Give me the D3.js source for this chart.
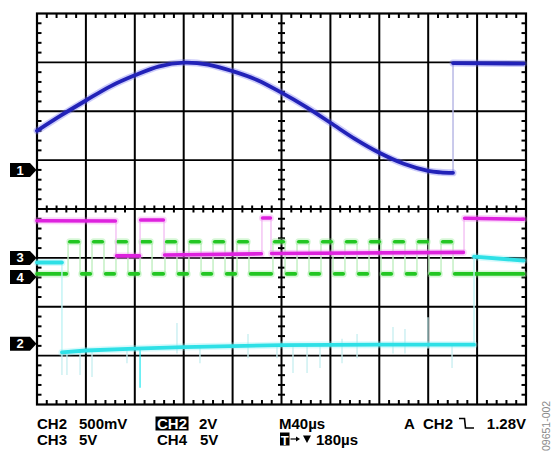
<!DOCTYPE html>
<html><head><meta charset="utf-8">
<script src="https://cdn.jsdelivr.net/npm/d3@7/dist/d3.min.js"></script>
<style>html,body{margin:0;padding:0;background:#fff;}svg{display:block;}</style>
</head><body>
<svg id="chart" width="551" height="452"></svg>
<script>
// ---- data (time in µs from left edge of screen, values in volts) ----
const ch1Time = [0,20,40,60,80,100,120,140,160,180,200,220,240,260,280,300,320,330,340.3,340.3,398];
const ch1Volt = [1.6,2.24,2.84,3.42,3.87,4.24,4.39,4.31,4.04,3.68,3.16,2.58,1.93,1.27,0.70,0.25,-0.04,-0.10,-0.12,4.37,4.35];

const ch2Time = [0,20.4,20.4,40,80,120,160,200,280,357.5,357.5,398];
const ch2Volt = [0.83,0.83,-0.09,-0.07,-0.05,-0.035,-0.025,-0.015,-0.01,-0.01,0.89,0.85];

const ch3Time = [0,64.6,64.6,84.3,84.3,103.9,103.9,184,184,191.4,191.4,349.3,349.3,398];
const ch3Volt = [3.8,3.78,0.2,0.2,3.88,3.88,0.3,0.42,4.08,4.08,0.45,0.56,4.06,3.95];

const ch4Rise = [25.4,45,64.6,84.3,104.7,124.3,144,163.6,193,212.7,232.3,251.9,271.6,291.2,310.8,330.5];
const ch4Fall = [35.2,54.8,74.4,94.1,114.5,134.2,153.8,173.4,202.9,222.5,242.1,261.8,281.4,301,320.6,340.3];
const ch4High = 3.6, ch4Low = 0.31, ch4End = 398;

// faint glitch spikes on CH2: [time, lowV, highV]
const ch2Spikes = [[20.4,-0.32,-0.09],[24.5,-0.32,-0.09],[35.2,-0.32,-0.08],[45,-0.34,-0.07],[73.6,-0.2,-0.06],
  [114.5,-0.1,0.21],[133.3,-0.2,-0.04],[172.6,-0.15,0.1],[196.3,-0.15,-0.02],[209.4,-0.3,-0.01],[220.9,-0.3,0.0],
  [231.5,-0.25,0.0],[249.5,-0.2,0.05],[261.8,-0.15,0.1],[291.2,-0.1,0.17],[301,-0.1,0.15],[319.8,-0.05,0.27],[339.5,-0.25,0.0]];
const ch2BrightSpike = [84.3,-0.45,-0.05];

// channel settings: volts/div and ground-marker offset in divisions
const channels = {
  ch1: {vdiv: 2,   offset: 0.8,   label: "1", color: "#2222b8", halo: "#7070f0", faint: "#b4b4e4"},
  ch2: {vdiv: 0.5, offset: -2.755, label: "2", color: "#2ee0e6", halo: "#8ff2f5", faint: "#bff3f5"},
  ch3: {vdiv: 5,   offset: -1.0,  label: "3", color: "#de22de", halo: "#f08af0", faint: "#f3c0f3"},
  ch4: {vdiv: 5,   offset: -1.39, label: "4", color: "#22c622", halo: "#8ae88a", faint: "#c0efc0"}
};

const row1 = [["CH2",37],["500mV",79],["CH2",157,true],["2V",199],["M40µs",279],["A",404],["CH2",423],["1.28V",526,false,"end"]];
const row2 = [["CH3",37],["5V",79],["CH4",157],["5V",200],["180µs",316]];
const figId = "09651-002";

// ---- layout ----
const L = 37, R = 526, T = 13.5, B = 404.5;
const svg = d3.select("#chart");
const x = d3.scaleLinear().domain([0,400]).range([L,R]);
const y = d3.scaleLinear().domain([-4,4]).range([B,T]);
const yc = (ch, v) => y(channels[ch].offset + v / channels[ch].vdiv);

// grid
const g = svg.append("g");
g.append("rect").attr("x",L).attr("y",T).attr("width",R-L).attr("height",B-T)
  .attr("fill","#fff").attr("stroke","#000").attr("stroke-width",2.2);
d3.range(1,10).forEach(i => g.append("line").attr("x1",x(i*40)).attr("x2",x(i*40)).attr("y1",T).attr("y2",B)
  .attr("stroke","#000").attr("stroke-width",2));
d3.range(-3,4).forEach(i => g.append("line").attr("x1",L).attr("x2",R).attr("y1",y(i)).attr("y2",y(i))
  .attr("stroke","#000").attr("stroke-width",1.8));
// minor ticks
const minorT = d3.range(1,50).filter(i => i%5 !== 0).map(i => i*8);
const minorV = d3.range(-19,20).filter(i => i%5 !== 0).map(i => i/5);
const tk = g.append("g").attr("stroke","#000").attr("stroke-width",2);
minorT.forEach(t => {
  tk.append("line").attr("x1",x(t)).attr("x2",x(t)).attr("y1",T).attr("y2",T+4.5);
  tk.append("line").attr("x1",x(t)).attr("x2",x(t)).attr("y1",B).attr("y2",B-4.5);
  tk.append("line").attr("x1",x(t)).attr("x2",x(t)).attr("y1",y(0)-3.5).attr("y2",y(0)+3.5);
});
minorV.forEach(v => {
  tk.append("line").attr("x1",L).attr("x2",L+4.5).attr("y1",y(v)).attr("y2",y(v));
  tk.append("line").attr("x1",R).attr("x2",R-4.5).attr("y1",y(v)).attr("y2",y(v));
  tk.append("line").attr("x1",x(200)-3.5).attr("x2",x(200)+3.5).attr("y1",y(v)).attr("y2",y(v));
});

// traces
function runs(times, volts){
  const out = []; let cur = [[times[0],volts[0]]];
  for (let i=1;i<times.length;i++){
    if (times[i] === times[i-1]) { out.push(cur); cur = [[times[i],volts[i]]]; }
    else cur.push([times[i],volts[i]]);
  }
  out.push(cur); return out;
}
function drawTrace(ch, times, volts, opts={}){
  const c = channels[ch];
  const tg = svg.append("g");
  const lin = d3.line().x(d=>x(d[0])).y(d=>yc(ch,d[1]));
  tg.append("path").attr("d", lin(times.map((t,i)=>[t,volts[i]])))
    .attr("fill","none").attr("stroke",c.faint).attr("stroke-width",1.4);
  const smooth = d3.line().x(d=>x(d[0])).y(d=>yc(ch,d[1])).curve(opts.smooth ? d3.curveCatmullRom : d3.curveLinear);
  const inset = opts.inset || 0;
  runs(times, volts).forEach(r => {
    let pts = r.map(p => p.slice());
    if (inset && pts.length >= 2) {
      if (pts[0][0] > 0) pts[0][0] += inset;
      if (pts[pts.length-1][0] < 398) pts[pts.length-1][0] -= inset;
    }
    if (pts.length < 2) return;
    tg.append("path").attr("d", smooth(pts)).attr("fill","none").attr("stroke",c.halo)
      .attr("stroke-width",opts.halo||7).attr("stroke-opacity",0.35).attr("stroke-linecap","round");
    tg.append("path").attr("d", smooth(pts)).attr("fill","none").attr("stroke",c.color)
      .attr("stroke-width",opts.width||3.4).attr("stroke-linecap","round");
  });
}

// CH2 spikes
const sg = svg.append("g");
ch2Spikes.forEach(s => sg.append("line").attr("x1",x(s[0])).attr("x2",x(s[0]))
  .attr("y1",yc("ch2",s[1])).attr("y2",yc("ch2",s[2])).attr("stroke","#c6eef0").attr("stroke-width",1.3));
sg.append("line").attr("x1",x(ch2BrightSpike[0])).attr("x2",x(ch2BrightSpike[0]))
  .attr("y1",yc("ch2",ch2BrightSpike[1])).attr("y2",yc("ch2",ch2BrightSpike[2])).attr("stroke","#30e8f0").attr("stroke-width",1.3);

// CH4 square wave built from edges
const ch4Time = [0], ch4Volt = [ch4Low];
ch4Rise.forEach((r,i) => { ch4Time.push(r,r,ch4Fall[i],ch4Fall[i]); ch4Volt.push(ch4Low,ch4High,ch4High,ch4Low); });
ch4Time.push(ch4End); ch4Volt.push(ch4Low);

drawTrace("ch4", ch4Time, ch4Volt, {inset:1.4, width:3.6});
drawTrace("ch3", ch3Time, ch3Volt, {inset:0.5, width:3.6});
drawTrace("ch2", ch2Time, ch2Volt, {width:3.8});
drawTrace("ch1", ch1Time, ch1Volt, {smooth:true, width:3.8});

// ground markers
Object.keys(channels).forEach(k => {
  const c = channels[k]; const yy = y(c.offset);
  svg.append("path").attr("d",`M10,${yy-7}H30L36.5,${yy}L30,${yy+7}H10Z`).attr("fill","#000");
  svg.append("text").attr("x",20).attr("y",yy+4.6).attr("text-anchor","middle")
    .attr("font-family","'Liberation Sans',Arial,sans-serif").attr("font-weight","bold")
    .attr("font-size",13).attr("fill","#fff").text(c.label);
});

// status text
const font = "'Liberation Sans',Arial,Helvetica,sans-serif";
function row(items, base){
  items.forEach(([s,xx,boxed,anchor]) => {
    const t = svg.append("text").attr("x",xx).attr("y",base).attr("font-family",font)
      .attr("font-weight","bold").attr("font-size",15).attr("text-anchor",anchor||"start").text(s);
    if (boxed) {
      const bb = t.node().getBBox();
      svg.insert("rect","text").attr("x",bb.x-1.5).attr("y",base-12).attr("width",bb.width+3).attr("height",14).attr("fill","#000");
      t.attr("fill","#fff"); t.raise();
    }
  });
}
row(row1, 428.5);
row(row2, 444.5);
// trigger slope symbol
svg.append("path").attr("d","M459,418.5H464.5L465.5,428H474").attr("fill","none").attr("stroke","#000").attr("stroke-width",1.6);
// T marker, arrow, down triangle
svg.append("rect").attr("x",280).attr("y",432.5).attr("width",9.5).attr("height",13).attr("fill","#000");
svg.append("text").attr("x",284.8).attr("y",444.5).attr("text-anchor","middle").attr("font-family",font)
  .attr("font-weight","bold").attr("font-size",13).attr("fill","#fff").text("T");
svg.append("path").attr("d","M290.5,439H297").attr("stroke","#000").attr("stroke-width",1.2);
svg.append("path").attr("d","M296,436.6L300,439L296,441.4Z").attr("fill","#000");
svg.append("path").attr("d","M303,435.5H311L307,443Z").attr("fill","#000");
// figure id
svg.append("text").attr("transform","translate(549.5,451) rotate(-90)").attr("font-family",font)
  .attr("font-size",10.5).attr("fill","#8a8a8a").text(figId);
</script>
</body></html>
